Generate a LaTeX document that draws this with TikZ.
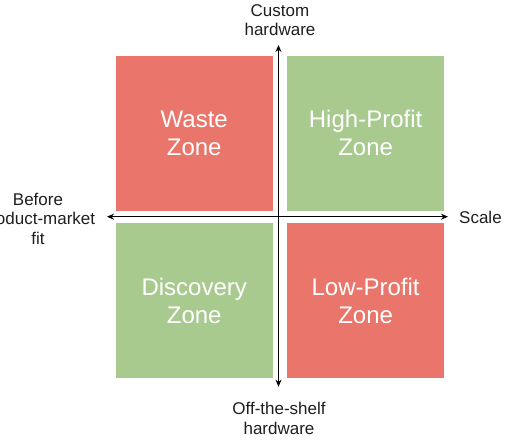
\documentclass[tikz,border=0pt]{standalone}
\usepackage{fontspec}
\setmainfont{Liberation Sans}
\usetikzlibrary{arrows.meta, positioning}
\definecolor{zonered}{RGB}{234, 117, 107}
\definecolor{zonegreen}{RGB}{168, 202, 142}
\definecolor{labelgray}{RGB}{30, 30, 30}

\begin{document}
\begin{tikzpicture}[
    x=1pt, y=-1pt,
    node distance=12pt and 14pt,
    zone/.style={
        rectangle, fill=#1, minimum width=157pt, minimum height=155pt, inner sep=0pt,
        text=white, align=center, font=\fontsize{24}{28}\selectfont
    },
    axis/.style={
        {Stealth[length=7pt, width=6pt]}-{Stealth[length=7pt, width=6pt]}, line width=1.6pt, draw=black
    },
    axislabel/.style={
        align=center, inner sep=0pt, text=labelgray, font=\fontsize{17}{19.5}\selectfont
    }
]
\useasboundingbox (0,0) rectangle (530,443);
\clip (0,0) rectangle (530,443);

% Quadrants
\node[zone=zonered] (waste) at (194.2,133.3) {Waste\\Zone};
\node[zone=zonegreen, right=of waste] (highprofit) {High-Profit\\Zone};
\node[zone=zonegreen, below=of waste] (discovery) {Discovery\\Zone};
\node[zone=zonered, below=of highprofit] (lowprofit) {Low-Profit\\Zone};

% Axis ends
\coordinate (xleft) at (107,216.7);
\coordinate (xright) at (448,216.7);
\coordinate (ytop) at (278.5,45);
\coordinate (ybottom) at (278.5,386.7);

% Axes
\draw[axis] (xleft) -- (xright);
\draw[axis] (ybottom) -- (ytop);

% Axis labels
\node[axislabel, anchor=north] (custom) at (280,4.3) {Custom\\hardware};
\node[axislabel, anchor=north] (offshelf) at (279,402.4) {Off-the-shelf\\hardware};
\node[axislabel, anchor=north] (before) at (38,192.8) {Before\\product-market\\fit};
\node[axislabel, anchor=base west] (scale) at (459,223.3) {Scale};

\end{tikzpicture}
\end{document}
